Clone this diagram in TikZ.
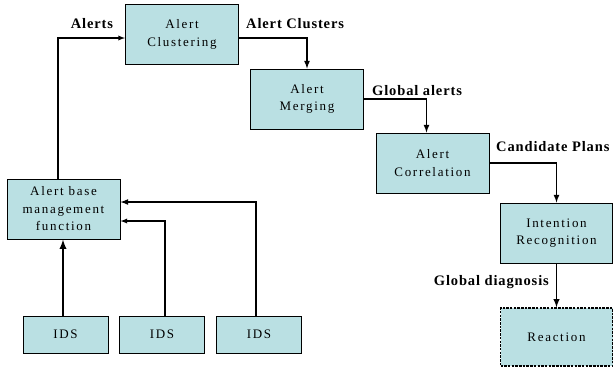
\documentclass[tikz,border=0pt]{standalone}
\usepackage{fontspec}
\setmainfont{Liberation Serif}
\usetikzlibrary{arrows}
\definecolor{boxcyan}{RGB}{186,224,227}
\newcommand{\boxfont}{\fontsize{13}{17.5}\selectfont\addfontfeature{LetterSpace=13}}
\newcommand{\labelfont}{\fontsize{14.5}{17}\selectfont\bfseries\addfontfeature{LetterSpace=6}}

\begin{document}
\begin{tikzpicture}[
    x=1pt, y=-1pt,
    box_node/.style={rectangle, draw, fill=boxcyan, align=center, line width=1pt, inner sep=0pt, font=\boxfont},
    ids_node/.style={box_node, minimum width=85pt, minimum height=37pt},
    step_node/.style={box_node, minimum width=113pt, minimum height=60pt},
    flow_label/.style={inner sep=0pt, font=\labelfont},
    link/.style={draw, -latex, line width=1.3pt}
]
\useasboundingbox (0,0) rectangle (613,368);

% processing chain
\node[step_node] (clust) at (182,34.5) {Alert\\Clustering};
\node[step_node] (merge) at (307,99) {Alert\\Merging};
\node[step_node] (corr) at (432.5,163) {Alert\\Correlation};
\node[step_node, minimum width=112pt] (intent) at (556.5,233) {Intention\\Recognition};
\node[step_node, minimum width=112pt, minimum height=58pt, dash pattern=on 2.5pt off 1.2pt, line width=1.4pt] (react) at (556.5,337) {Reaction};

% alert sources
\node[step_node] (abm) at (63.5,209) {Alert base\\management\\function};
\node[ids_node] (ids1) at (65.5,334.5) {IDS};
\node[ids_node] (ids2) at (162,334.5) {IDS};
\node[ids_node] (ids3) at (259,334.5) {IDS};

% connectors
\draw[link] ([xshift=-5.5pt]abm.north) |- ([yshift=-3.5pt]clust.west);
\draw[link, line width=1.6pt] ([yshift=-3.5pt]clust.east) -| (merge.north);
\draw[link, line width=1.6pt] (merge.east) -| ([xshift=-6pt]corr.north);
\draw[link, line width=1.6pt] (corr.east) -| (intent.north);
\draw[link, line width=1.8pt] (intent.south) -- (react.north);
\draw[link, line width=2.2pt] ([xshift=-2.5pt]ids1.north) -- ([xshift=-0.5pt]abm.south);
\draw[link] ([xshift=3pt]ids2.north) |- ([yshift=-12pt]abm.east);
\draw[link, line width=1.6pt] ([xshift=-3pt]ids3.north) |- ([yshift=7pt]abm.east);

% labels
\node[flow_label] (l_alerts) at (92,24) {Alerts};
\node[flow_label, anchor=west] (l_clusters) at (246,24) {Alert Clusters};
\node[flow_label, anchor=west] (l_global) at (372,91) {Global alerts};
\node[flow_label, anchor=west] (l_plans) at (496,147) {Candidate Plans};
\node[flow_label, anchor=east] (l_diag) at (549,282) {Global diagnosis};
\end{tikzpicture}
\end{document}
